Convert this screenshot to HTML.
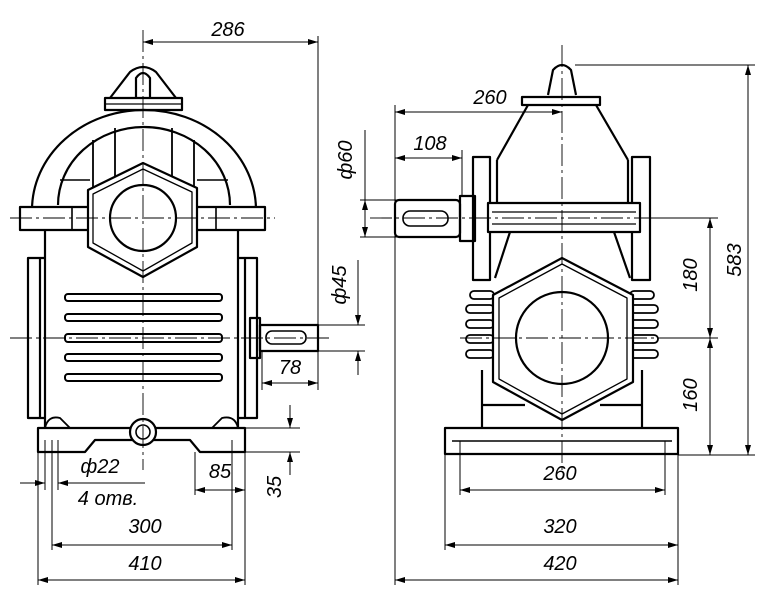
<!DOCTYPE html>
<html><head><meta charset="utf-8"><style>
html,body{margin:0;padding:0;background:#fff}
svg{display:block}
text{font-family:"Liberation Sans",sans-serif;font-style:italic;font-size:20px;fill:#000}
</style></head><body>
<svg width="761" height="600" viewBox="0 0 761 600" xmlns="http://www.w3.org/2000/svg">
<defs>
<marker id="a" viewBox="0 0 10 6" refX="10" refY="3" markerWidth="10" markerHeight="6" orient="auto-start-reverse" markerUnits="userSpaceOnUse"><path d="M0,0L10,3L0,6z" fill="#000"/></marker>
</defs>
<g fill="none" stroke="#000" stroke-width="2.2" stroke-linejoin="round">
<!-- ===== LEFT VIEW ===== -->
<!-- lifting eye -->
<path d="M110,98 L130,72 Q143,62 156,72 L176,98"/>
<path d="M136,98 L136,78 Q143,68 150,78 L150,98"/>
<rect x="105" y="98" width="77" height="12"/>
<line x1="105" y1="104" x2="182" y2="104" stroke-width="1.2"/>
<!-- arch -->
<path d="M32,210 A112,100 0 0 1 256,210"/>
<path d="M58,205 A86,78 0 0 1 230,205"/>
<path d="M93,140 L93,190 M115,128 L115,180 M172,128 L172,180 M194,140 L194,190" stroke-width="1.8"/>
<path d="M60,180 L90,180 M197,180 L228,180" stroke-width="1.6"/>
<!-- shaft bar -->
<rect x="20" y="207" width="245" height="23" fill="#fff"/>
<path d="M72,207 L72,230 M216,207 L216,230" stroke-width="1.6"/>
<!-- hexagon -->
<path d="M143,163 L197,188 L197,247 L143,277 L88,247 L88,190 Z" fill="#fff"/>
<path d="M143,169 L192,192 L192,243 L143,271 L93,243 L93,194 Z" stroke-width="1.3"/>
<circle cx="143" cy="218" r="33"/>
<!-- body -->
<path d="M45,230 L45,428 M238,230 L238,428"/>
<rect x="28" y="258" width="12" height="160"/>
<rect x="245" y="258" width="12" height="160"/>
<path d="M40,258 L45,258 M40,418 L45,418 M238,258 L245,258 M238,418 L245,418"/>
<g stroke-width="2">
<rect x="65" y="294" width="157" height="7" rx="3"/>
<rect x="65" y="314" width="157" height="7" rx="3"/>
<rect x="65" y="334" width="157" height="8" rx="3"/>
<rect x="65" y="354" width="157" height="7" rx="3"/>
<rect x="65" y="374" width="157" height="7" rx="3"/>
</g>
<!-- output shaft -->
<rect x="250" y="318" width="10" height="40"/>
<rect x="260" y="325" width="58" height="26"/>
<rect x="266" y="331" width="40" height="13" rx="6" stroke-width="1.6"/>
<!-- base -->
<path d="M38,428 L245,428 L245,452 L200,452 L190,440 L95,440 L85,452 L38,452 Z"/>
<path d="M45,428 Q48,415 60,418 L70,428 M238,428 Q235,415 222,418 L212,428" stroke-width="1.8"/>
<circle cx="143" cy="432" r="13" fill="#fff"/>
<circle cx="143" cy="432" r="7" stroke-width="1.6"/>
<!-- ===== RIGHT VIEW ===== -->
<path d="M548,95 L553,70 Q562,60 571,70 L576,95"/>
<rect x="522" y="97" width="78" height="8"/>
<path d="M528,105 L497,160 M596,105 L628,160"/>
<path d="M497,160 L497,203 M628,160 L628,203"/>
<rect x="473" y="157" width="17" height="123"/>
<rect x="632" y="157" width="18" height="123"/>
<rect x="488" y="203" width="152" height="29" fill="#fff"/>
<path d="M492,212 L636,212 M492,224 L636,224" stroke-width="1.3"/>
<rect x="395" y="200" width="65" height="37" rx="4"/>
<rect x="460" y="196" width="15" height="45"/>
<rect x="403" y="211" width="45" height="15" rx="7" stroke-width="1.6"/>
<path d="M510,232 L495,278 M614,232 L630,278"/>
<!-- fins -->
<g stroke-width="1.8">
<rect x="470" y="291" width="24" height="8" rx="4"/>
<rect x="466" y="305" width="28" height="8" rx="4"/>
<rect x="466" y="320" width="28" height="8" rx="4"/>
<rect x="466" y="335" width="28" height="8" rx="4"/>
<rect x="466" y="350" width="28" height="8" rx="4"/>
<rect x="630" y="291" width="24" height="8" rx="4"/>
<rect x="630" y="305" width="28" height="8" rx="4"/>
<rect x="630" y="320" width="28" height="8" rx="4"/>
<rect x="630" y="335" width="28" height="8" rx="4"/>
<rect x="630" y="350" width="28" height="8" rx="4"/>
</g>
<path d="M482,370 L482,428 M642,370 L642,428 M482,405 L525,405 M642,405 L600,405"/>
<path d="M562,258 L633,295 L633,382 L562,420 L493,382 L493,295 Z" fill="#fff"/>
<path d="M562,264 L627,298 L627,379 L562,414 L499,379 L499,298 Z" stroke-width="1.3"/>
<circle cx="562" cy="338" r="46"/>
<rect x="445" y="428" width="233" height="26"/>
<line x1="452" y1="441" x2="672" y2="441" stroke-width="1.6"/>
</g>
<!-- centerlines -->
<g stroke="#000" stroke-width="0.9" stroke-dasharray="22,4,3,4" fill="none">
<line x1="143" y1="30" x2="143" y2="470"/>
<line x1="10" y1="218" x2="275" y2="218"/>
<line x1="10" y1="338" x2="330" y2="338"/>
<line x1="562" y1="45" x2="562" y2="470"/>
<line x1="370" y1="218" x2="650" y2="218"/>
<line x1="460" y1="338" x2="660" y2="338"/>
</g>
<!-- dimension lines -->
<g stroke="#000" stroke-width="1" fill="none">
<line x1="318" y1="36" x2="318" y2="390"/>
<line x1="143" y1="42" x2="318" y2="42" marker-start="url(#a)" marker-end="url(#a)"/>
<line x1="365" y1="130" x2="365" y2="200"/><line x1="365" y1="200" x2="365" y2="237" marker-start="url(#a)" marker-end="url(#a)"/>
<line x1="360" y1="200" x2="400" y2="200"/><line x1="360" y1="237" x2="400" y2="237"/>
<line x1="358" y1="260" x2="358" y2="325" marker-end="url(#a)"/><line x1="358" y1="375" x2="358" y2="351" marker-end="url(#a)"/>
<line x1="318" y1="325" x2="365" y2="325"/><line x1="318" y1="351" x2="365" y2="351"/>
<line x1="262" y1="351" x2="262" y2="390"/>
<line x1="262" y1="383" x2="318" y2="383" marker-start="url(#a)" marker-end="url(#a)"/>
<line x1="245" y1="428" x2="300" y2="428"/><line x1="245" y1="452" x2="300" y2="452"/>
<line x1="290" y1="405" x2="290" y2="428" marker-end="url(#a)"/><line x1="290" y1="475" x2="290" y2="452" marker-end="url(#a)"/>
<line x1="195" y1="452" x2="195" y2="495"/>
<line x1="195" y1="490" x2="245" y2="490" marker-start="url(#a)" marker-end="url(#a)"/>
<line x1="38" y1="452" x2="38" y2="585"/><line x1="245" y1="452" x2="245" y2="585"/>
<line x1="52" y1="440" x2="52" y2="550"/><line x1="232" y1="440" x2="232" y2="550"/>
<line x1="45" y1="440" x2="45" y2="490"/><line x1="58" y1="440" x2="58" y2="490"/>
<line x1="20" y1="483" x2="45" y2="483" marker-end="url(#a)"/><line x1="145" y1="483" x2="58" y2="483" marker-end="url(#a)"/>
<line x1="52" y1="545" x2="232" y2="545" marker-start="url(#a)" marker-end="url(#a)"/>
<line x1="38" y1="580" x2="245" y2="580" marker-start="url(#a)" marker-end="url(#a)"/>
<!-- right -->
<line x1="395" y1="105" x2="395" y2="585"/>
<line x1="462" y1="150" x2="462" y2="196"/>
<line x1="395" y1="112" x2="562" y2="112" marker-start="url(#a)" marker-end="url(#a)"/>
<line x1="395" y1="158" x2="462" y2="158" marker-start="url(#a)" marker-end="url(#a)"/>
<line x1="575" y1="65" x2="755" y2="65"/><line x1="678" y1="455" x2="755" y2="455"/>
<line x1="748" y1="65" x2="748" y2="455" marker-start="url(#a)" marker-end="url(#a)"/>
<line x1="640" y1="218" x2="718" y2="218"/><line x1="660" y1="338" x2="718" y2="338"/>
<line x1="710" y1="218" x2="710" y2="338" marker-start="url(#a)" marker-end="url(#a)"/>
<line x1="710" y1="338" x2="710" y2="455" marker-start="url(#a)" marker-end="url(#a)"/>
<line x1="460" y1="441" x2="460" y2="495"/><line x1="665" y1="441" x2="665" y2="495"/>
<line x1="460" y1="490" x2="665" y2="490" marker-start="url(#a)" marker-end="url(#a)"/>
<line x1="445" y1="454" x2="445" y2="550"/><line x1="678" y1="454" x2="678" y2="585"/>
<line x1="445" y1="545" x2="678" y2="545" marker-start="url(#a)" marker-end="url(#a)"/>
<line x1="395" y1="580" x2="678" y2="580" marker-start="url(#a)" marker-end="url(#a)"/>
</g>
<!-- labels -->
<text x="228" y="36" text-anchor="middle">286</text>
<text transform="translate(352,160) rotate(-90)" text-anchor="middle">ф60</text>
<text transform="translate(346,285) rotate(-90)" text-anchor="middle">ф45</text>
<text x="290" y="374" text-anchor="middle">78</text>
<text transform="translate(281,487) rotate(-90)" text-anchor="middle">35</text>
<text x="220" y="478" text-anchor="middle">85</text>
<text x="100" y="473" text-anchor="middle">ф22</text>
<text x="108" y="505" text-anchor="middle">4 отв.</text>
<text x="145" y="533" text-anchor="middle">300</text>
<text x="145" y="570" text-anchor="middle">410</text>
<text x="490" y="104" text-anchor="middle">260</text>
<text x="430" y="150" text-anchor="middle">108</text>
<text transform="translate(741,260) rotate(-90)" text-anchor="middle">583</text>
<text transform="translate(697,275) rotate(-90)" text-anchor="middle">180</text>
<text transform="translate(697,395) rotate(-90)" text-anchor="middle">160</text>
<text x="560" y="480" text-anchor="middle">260</text>
<text x="560" y="533" text-anchor="middle">320</text>
<text x="560" y="570" text-anchor="middle">420</text>
</svg>
</body></html>
